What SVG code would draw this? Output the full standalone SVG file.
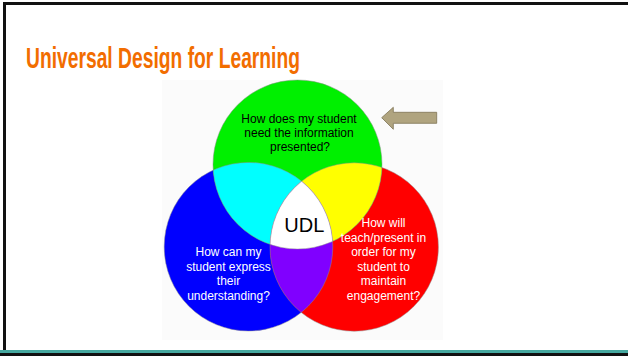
<svg xmlns="http://www.w3.org/2000/svg" width="628" height="356" viewBox="0 0 628 356">
<style>
.q{font-family:"Liberation Sans",Arial,sans-serif;font-size:12px;text-anchor:middle}
.dk{fill:#000}
.wt{fill:#fff}
.edge{fill:none;stroke:#8c8c8c;stroke-width:0.7;stroke-opacity:0.7}
</style>
<defs>
<clipPath id="clipG"><circle cx="297.5" cy="164.5" r="84.5"/></clipPath>
<clipPath id="clipB"><circle cx="248.5" cy="246.7" r="84.3"/></clipPath>
</defs>
<rect x="0" y="0" width="628" height="356" fill="#fff"/>
<rect x="162" y="80" width="281" height="260" fill="#fbfbfb"/>
<path d="M4.5 356 V3.5 H628" fill="none" stroke="#111" stroke-width="3"/>
<rect x="0" y="350" width="628" height="3" fill="#45a89f"/>
<rect x="0" y="353" width="628" height="3" fill="#111"/>
<text x="26" y="68" font-family="'Liberation Sans Narrow','Liberation Sans',Arial,sans-serif" font-weight="bold" font-size="30" fill="#f26d00" textLength="274" lengthAdjust="spacingAndGlyphs">Universal Design for Learning</text>

<g id="circle-blue">
<circle cx="248.5" cy="246.7" r="84.3" fill="#0000ff"/>
</g>
<g id="circle-red">
<circle cx="354.2" cy="247" r="84.2" fill="#ff0000"/>
</g>
<g id="circle-green">
<circle cx="297.5" cy="164.5" r="84.5" fill="#00f000"/>
</g>
<g id="overlaps">
<circle cx="248.5" cy="246.7" r="84.3" fill="#00ffff" clip-path="url(#clipG)"/>
<circle cx="354.2" cy="247" r="84.2" fill="#ffff00" clip-path="url(#clipG)"/>
<circle cx="354.2" cy="247" r="84.2" fill="#8000ff" clip-path="url(#clipB)"/>
<g clip-path="url(#clipB)"><circle cx="354.2" cy="247" r="84.2" fill="#ffffff" clip-path="url(#clipG)"/></g>
<circle class="edge" cx="248.5" cy="246.7" r="84.3"/>
<circle class="edge" cx="354.2" cy="247" r="84.2"/>
<circle class="edge" cx="297.5" cy="164.5" r="84.5"/>
</g>

<g id="label-green">
<text class="q dk" x="299" y="122.5">How does my student</text>
<text class="q dk" x="299" y="136.5">need the information</text>
<text class="q dk" x="300" y="151">presented?</text>
</g>
<g id="label-blue">
<text class="q wt" x="228.5" y="256">How can my</text>
<text class="q wt" x="228.5" y="270.5">student express</text>
<text class="q wt" x="228.5" y="285">their</text>
<text class="q wt" x="228.5" y="299.5">understanding?</text>
</g>
<g id="label-red">
<text class="q wt" x="383.5" y="227">How will</text>
<text class="q wt" x="383.5" y="241.5">teach/present in</text>
<text class="q wt" x="383.5" y="256">order for my</text>
<text class="q wt" x="383.5" y="270.5">student to</text>
<text class="q wt" x="383.5" y="285">maintain</text>
<text class="q wt" x="383.5" y="299.5">engagement?</text>
</g>
<g id="udl">
<text x="304.3" y="232.3" font-family="'Liberation Sans',Arial,sans-serif" font-size="20" text-anchor="middle" fill="#000">UDL</text>
</g>
<g id="arrow">
<polygon points="381.7,117.7 393.3,107.3 393.3,112.3 436.7,112.3 436.7,123.3 393.3,123.3 393.3,129.3" fill="#b0a47f" stroke="#7d7354" stroke-width="0.8"/>
</g>
<g id="connectors"/>
</svg>
